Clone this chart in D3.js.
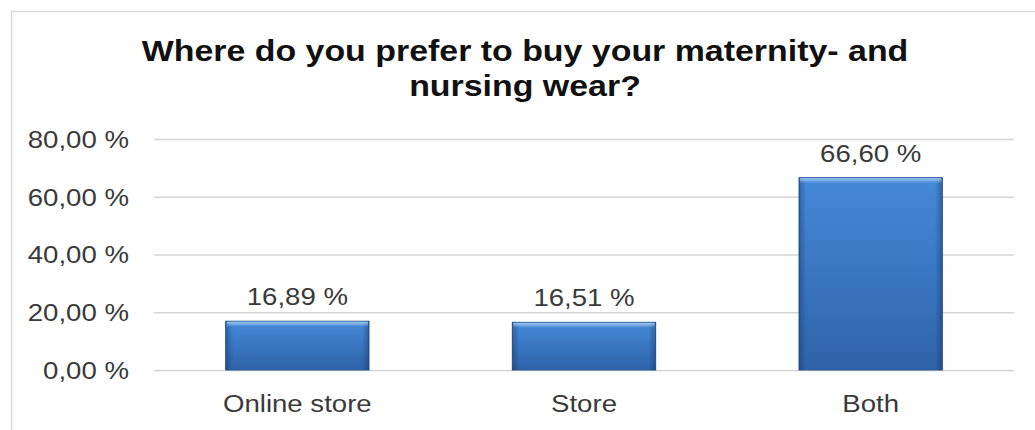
<!DOCTYPE html>
<html>
<head>
<meta charset="utf-8">
<script src="https://cdn.jsdelivr.net/npm/d3@7"></script>
<style>
  html, body { margin: 0; padding: 0; background: #ffffff; }
  svg { display: block; }
  text { font-family: "Liberation Sans", Arial, Helvetica, sans-serif; }
</style>
</head>
<body>
<svg id="chart" width="1035" height="430"></svg>
<script>
// Survey answers
const categories = ["Online store", "Store", "Both"];
const values = [16.89, 16.51, 66.60];
const yTicks = [0, 20, 40, 60, 80];
const titleLines = ["Where do you prefer to buy your maternity- and", "nursing wear?"];

const W = 1035, H = 430;
const sx = 1.15; // wide lettering
const plot = { left: 154, right: 1014, top: 139, bottom: 370 };

const svg = d3.select("#chart");

// European style number format: 16,89 %
const locale = d3.formatLocale({ decimal: ",", thousands: ".", grouping: [3], currency: ["", " €"] });
const pct = v => locale.format(".2f")(v) + " %";

// Chart frame
svg.append("rect")
  .attr("x", 11.5).attr("y", 11.5)
  .attr("width", W + 20).attr("height", H + 20)
  .attr("fill", "#ffffff")
  .attr("stroke", "#d9d9d9").attr("stroke-width", 1.5);

// Gradients for the bars
const defs = svg.append("defs");
const vg = defs.append("linearGradient").attr("id", "barFill")
  .attr("x1", 0).attr("y1", 0).attr("x2", 0).attr("y2", 1);
vg.append("stop").attr("offset", "0%").attr("stop-color", "#4589d8");
vg.append("stop").attr("offset", "100%").attr("stop-color", "#2f63a9");

const hg = defs.append("linearGradient").attr("id", "barEdge")
  .attr("x1", 0).attr("y1", 0).attr("x2", 1).attr("y2", 0);
hg.append("stop").attr("offset", "0%").attr("stop-color", "#0a2350").attr("stop-opacity", 0.35);
hg.append("stop").attr("offset", "5%").attr("stop-color", "#0a2350").attr("stop-opacity", 0);
hg.append("stop").attr("offset", "95%").attr("stop-color", "#0a2350").attr("stop-opacity", 0);
hg.append("stop").attr("offset", "100%").attr("stop-color", "#0a2350").attr("stop-opacity", 0.35);

const tg = defs.append("linearGradient").attr("id", "barTop")
  .attr("x1", 0).attr("y1", 0).attr("x2", 0).attr("y2", 1);
tg.append("stop").attr("offset", "0%").attr("stop-color", "#a9d0f5").attr("stop-opacity", 0.9);
tg.append("stop").attr("offset", "100%").attr("stop-color", "#a9d0f5").attr("stop-opacity", 0);

// Scales
const x = d3.scaleBand()
  .domain(categories)
  .range([plot.left, plot.right])
  .paddingInner(0.5)
  .paddingOuter(0.25);

const y = d3.scaleLinear()
  .domain([0, 80])
  .range([plot.bottom, plot.top]);

// Title
const title = svg.append("g").attr("class", "title");
title.selectAll("text")
  .data(titleLines)
  .join("text")
  .attr("transform", (d, i) => `translate(525,${61 + i * 35}) scale(${sx},1)`)
  .attr("text-anchor", "middle")
  .attr("font-size", 29.5)
  .attr("font-weight", "bold")
  .attr("fill", "#111111")
  .text(d => d);

// Value axis with gridlines
const yAxis = svg.append("g")
  .attr("transform", `translate(${plot.left},0)`)
  .call(d3.axisLeft(y)
    .tickValues(yTicks)
    .tickSize(-(plot.right - plot.left))
    .tickPadding(0)
    .tickFormat(pct));
yAxis.select(".domain").remove();
yAxis.selectAll(".tick line")
  .attr("stroke", "#d4d4d4").attr("stroke-width", 1.5);
yAxis.selectAll(".tick text")
  .attr("x", -25 / sx)
  .attr("dy", "0.35em")
  .attr("transform", `scale(${sx},1)`)
  .attr("font-size", 24)
  .attr("fill", "#3a3a3a");

// Category axis
const xAxis = svg.append("g")
  .attr("transform", `translate(0,${plot.bottom})`)
  .call(d3.axisBottom(x).tickSize(0).tickPadding(0));
xAxis.select(".domain").remove();
xAxis.selectAll(".tick text")
  .attr("y", 42)
  .attr("dy", 0)
  .attr("transform", `scale(${sx},1)`)
  .attr("font-size", 24)
  .attr("fill", "#3a3a3a");

// Bars
const data = categories.map((c, i) => ({ cat: c, val: values[i] }));
const bars = svg.append("g").attr("class", "bars");

const barG = bars.selectAll("g")
  .data(data)
  .join("g");

barG.append("rect")
  .attr("x", d => x(d.cat))
  .attr("y", d => y(d.val))
  .attr("width", x.bandwidth())
  .attr("height", d => y(0) - y(d.val))
  .attr("fill", "url(#barFill)")
  .attr("stroke", "#2a5892")
  .attr("stroke-width", 1);

barG.append("rect")
  .attr("x", d => x(d.cat))
  .attr("y", d => y(d.val))
  .attr("width", x.bandwidth())
  .attr("height", d => y(0) - y(d.val))
  .attr("fill", "url(#barEdge)");

barG.append("rect")
  .attr("x", d => x(d.cat) + 1)
  .attr("y", d => y(d.val) + 0.5)
  .attr("width", x.bandwidth() - 2)
  .attr("height", 5)
  .attr("fill", "url(#barTop)");

// Value labels
barG.append("text")
  .attr("transform", d => `translate(${x(d.cat) + x.bandwidth() / 2},${y(d.val) - 16}) scale(${sx},1)`)
  .attr("text-anchor", "middle")
  .attr("font-size", 24)
  .attr("fill", "#3a3a3a")
  .text(d => pct(d.val));
</script>
</body>
</html>
